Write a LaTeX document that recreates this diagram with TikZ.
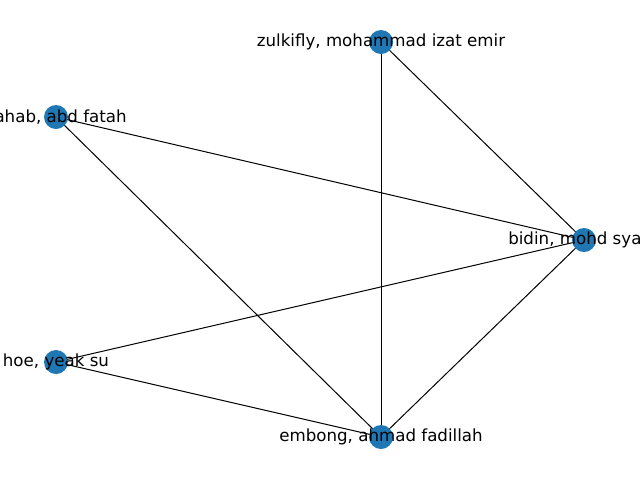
\documentclass[tikz,border=0pt]{standalone}
\usepackage{fontspec}
\setmainfont{DejaVu Sans}
\definecolor{nodeblue}{HTML}{1F77B4}
\begin{document}
\begin{tikzpicture}[x=0.75pt,y=-0.75pt,
  vtx/.style={circle,fill=nodeblue,draw=none,minimum size=18pt,inner sep=0pt},
  lbl/.style={inner sep=0pt,font=\fontsize{12.5}{15}\selectfont,text=black},
  edge/.style={draw=black,line width=0.75pt}]
\useasboundingbox (0,0) rectangle (640,480);
\clip (0,0) rectangle (640,480);
\fill[white] (0,0) rectangle (640,480);
\coordinate (pz) at (381,42);
\coordinate (pw) at (56,117);
\coordinate (pb) at (584,240);
\coordinate (ph) at (56,362);
\coordinate (pe) at (381,437);
\draw[edge] (pz) -- (pe);
\draw[edge] (pz) -- (pb);
\draw[edge] (pw) -- (pb);
\draw[edge] (pw) -- (pe);
\draw[edge] (pb) -- (ph);
\draw[edge] (pb) -- (pe);
\draw[edge] (ph) -- (pe);
\node[vtx] (z) at (pz) {};
\node[vtx] (w) at (pw) {};
\node[vtx] (b) at (pb) {};
\node[vtx] (h) at (ph) {};
\node[vtx] (e) at (pe) {};
\node[lbl] (lz) at (pz) {zulkifly, mohammad izat emir};
\node[lbl,anchor=east] (lw) at (127,117) {ahab, abd fatah};
\node[lbl,anchor=west] (lb) at (508,240) {bidin, mohd sya};
\node[lbl] (lh) at (ph) {hoe, yeak su};
\node[lbl] (le) at (pe) {embong, ahmad fadillah};
\end{tikzpicture}
\end{document}
